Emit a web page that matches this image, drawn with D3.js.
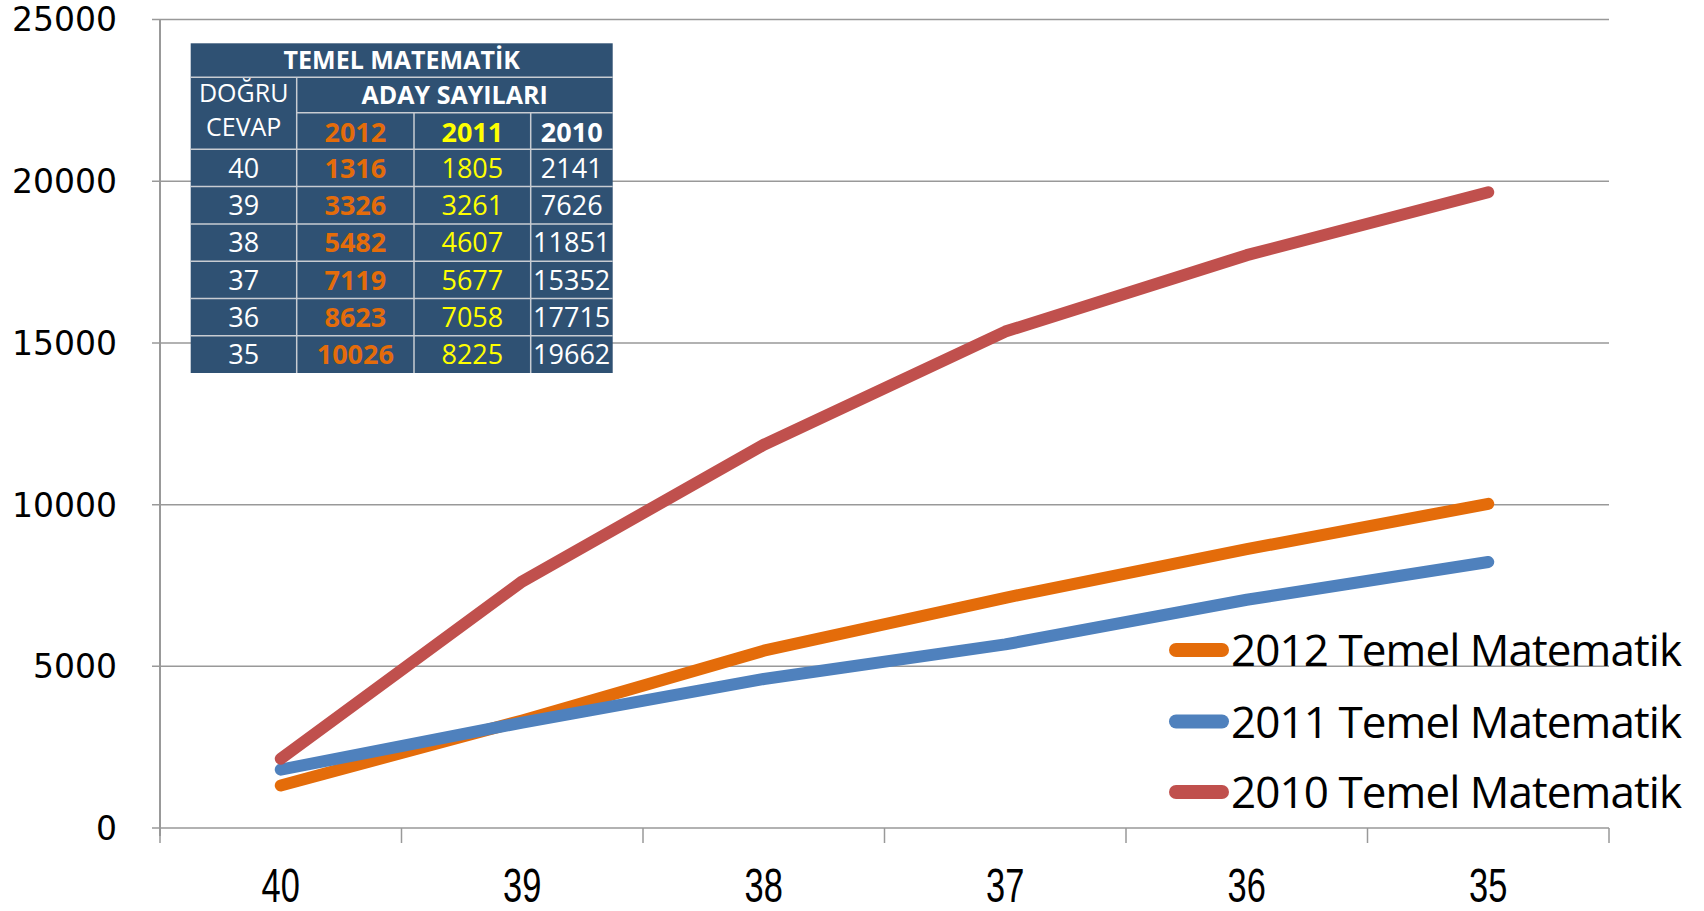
<!DOCTYPE html>
<head>
<meta charset="utf-8">
<style type="text/css">
body { margin: 0; background: #fff; }
</style>
</head>
<body>
<script src="https://cdn.jsdelivr.net/npm/d3@7"></script>
<script type="text/javascript">
  // chart data
  var categories = ['40', '39', '38', '37', '36', '35'];
  var s2012 = [1316, 3326, 5482, 7119, 8623, 10026];
  var s2011 = [1805, 3261, 4607, 5677, 7058, 8225];
  var s2010 = [2141, 7626, 11851, 15352, 17715, 19662];
  var yTicks = [0, 5000, 10000, 15000, 20000, 25000];
  var seriesNames = ['2012 Temel Matematik', '2011 Temel Matematik', '2010 Temel Matematik'];
  var colors = ['#E46C0A', '#4F81BD', '#C0504D'];

  var W = 1704, H = 911;
  var plotL = 160, plotR = 1609, plotT = 19.6, plotB = 828;

  var svg = d3.select('body').append('svg')
          .attr('width', W)
          .attr('height', H);

  var x = d3.scaleBand().domain(categories).range([plotL, plotR]);
  var y = d3.scaleLinear().domain([0, 25000]).range([plotB, plotT]);

  // gridlines
  svg.append('g').selectAll('line')
          .data(yTicks)
          .enter().append('line')
          .attr('x1', plotL - 8).attr('x2', plotR)
          .attr('y1', function(d){ return y(d); })
          .attr('y2', function(d){ return y(d); })
          .attr('stroke', '#999').attr('stroke-width', 1.5);

  // y axis line
  svg.append('line')
          .attr('x1', plotL).attr('x2', plotL)
          .attr('y1', plotT).attr('y2', plotB + 8)
          .attr('stroke', '#999').attr('stroke-width', 2);

  // x ticks at band boundaries
  var bounds = categories.map(function(c){ return x(c); }).concat([plotR]);
  svg.append('g').selectAll('line')
          .data(bounds)
          .enter().append('line')
          .attr('x1', function(d){ return d; }).attr('x2', function(d){ return d; })
          .attr('y1', plotB).attr('y2', plotB + 15)
          .attr('stroke', '#999').attr('stroke-width', 1.5);

  // y labels
  svg.append('g').selectAll('text')
          .data(yTicks)
          .enter().append('text')
          .attr('x', 117)
          .attr('y', function(d){ return y(d); })
          .attr('dy', '0.36em')
          .attr('text-anchor', 'end')
          .style('font-family', 'DejaVu Sans')
          .style('font-size', '33px')
          .attr('fill', '#000')
          .text(function(d){ return d; });

  // x labels (condensed look)
  svg.append('g').selectAll('text')
          .data(categories)
          .enter().append('text')
          .attr('transform', function(d){
            return 'translate(' + (x(d) + x.bandwidth() / 2) + ',902) scale(0.8,1.1)';
          })
          .attr('text-anchor', 'middle')
          .style('font-family', 'Liberation Sans')
          .style('font-size', '43px')
          .attr('fill', '#000')
          .text(function(d){ return d; });

  // lines
  var line = d3.line()
          .x(function(d, i){ return x(categories[i]) + x.bandwidth() / 2; })
          .y(function(d){ return y(d); });

  svg.append('g').selectAll('path')
          .data([s2012, s2011, s2010])
          .enter().append('path')
          .attr('d', line)
          .attr('fill', 'none')
          .attr('stroke', function(d, i){ return colors[i]; })
          .attr('stroke-width', 12)
          .attr('stroke-linecap', 'round')
          .attr('stroke-linejoin', 'round');

  // legend
  var legendY = [650, 721.5, 792];
  var lg = svg.append('g').selectAll('g')
          .data(seriesNames)
          .enter().append('g');
  lg.append('line')
          .attr('x1', 1176).attr('x2', 1222)
          .attr('y1', function(d, i){ return legendY[i]; })
          .attr('y2', function(d, i){ return legendY[i]; })
          .attr('stroke', function(d, i){ return colors[i]; })
          .attr('stroke-width', 14)
          .attr('stroke-linecap', 'round');
  lg.append('text')
          .attr('x', 1231)
          .attr('y', function(d, i){ return legendY[i] + 16; })
          .attr('textLength', 451)
          .style('font-family', 'Open Sans')
          .style('font-size', '44px')
          .attr('fill', '#000')
          .text(function(d){ return d; });

  // data table
  var colX = [190.7, 296.7, 414, 530.7, 612.7];
  var rowY = [43.3, 77.3, 112.7, 149.3, 186.6, 223.9, 261.2, 298.5, 335.8, 373];
  var tbl = svg.append('g');
  tbl.append('rect')
          .attr('x', colX[0]).attr('y', rowY[0])
          .attr('width', colX[4] - colX[0]).attr('height', rowY[9] - rowY[0])
          .attr('fill', '#2F5173');

  var gridCol = '#c8ccd2';
  // horizontal borders
  var hLines = [
    [colX[0], colX[4], rowY[1]],
    [colX[1], colX[4], rowY[2]],
    [colX[0], colX[4], rowY[3]], [colX[0], colX[4], rowY[4]], [colX[0], colX[4], rowY[5]],
    [colX[0], colX[4], rowY[6]], [colX[0], colX[4], rowY[7]], [colX[0], colX[4], rowY[8]]
  ];
  tbl.selectAll('.h').data(hLines).enter().append('line')
          .attr('x1', function(d){ return d[0]; }).attr('x2', function(d){ return d[1]; })
          .attr('y1', function(d){ return d[2]; }).attr('y2', function(d){ return d[2]; })
          .attr('stroke', gridCol).attr('stroke-width', 1.5);
  var vLines = [
    [colX[1], rowY[1], rowY[9]],
    [colX[2], rowY[2], rowY[9]],
    [colX[3], rowY[2], rowY[9]]
  ];
  tbl.selectAll('.v').data(vLines).enter().append('line')
          .attr('x1', function(d){ return d[0]; }).attr('x2', function(d){ return d[0]; })
          .attr('y1', function(d){ return d[1]; }).attr('y2', function(d){ return d[2]; })
          .attr('stroke', gridCol).attr('stroke-width', 1.5);

  function cell(txt, cx, cy, fill, bold, size){
    tbl.append('text')
            .attr('x', cx).attr('y', cy)
            .attr('dy', '0.36em')
            .attr('text-anchor', 'middle')
            .style('font-family', 'Open Sans')
            .style('font-size', (size || 27) + 'px')
            .style('font-weight', bold ? 'bold' : 'normal')
            .attr('fill', fill)
            .text(txt);
  }
  var tCols = ['#E46C0A', '#FFFF00', '#FFFFFF'];
  cell('TEMEL MATEMATİK', (colX[0] + colX[4]) / 2, (rowY[0] + rowY[1]) / 2, '#fff', true, 25);
  cell('ADAY SAYILARI', (colX[1] + colX[4]) / 2, (rowY[1] + rowY[2]) / 2, '#fff', true, 25);
  cell('DOĞRU', (colX[0] + colX[1]) / 2, (rowY[1] + rowY[2]) / 2 - 2, '#fff', false, 25);
  cell('CEVAP', (colX[0] + colX[1]) / 2, (rowY[2] + rowY[3]) / 2 - 4, '#fff', false, 25);
  ['2012', '2011', '2010'].forEach(function(t, j){
    cell(t, (colX[j + 1] + colX[j + 2]) / 2, (rowY[2] + rowY[3]) / 2 + 1, tCols[j], true);
  });
  var tableSeries = [s2012, s2011, s2010];
  categories.forEach(function(c, i){
    var cy = (rowY[3 + i] + rowY[4 + i]) / 2;
    cell(c, (colX[0] + colX[1]) / 2, cy, '#fff', false);
    tableSeries.forEach(function(s, j){
      cell(s[i], (colX[j + 1] + colX[j + 2]) / 2, cy, tCols[j], j === 0);
    });
  });
</script>
</body>
